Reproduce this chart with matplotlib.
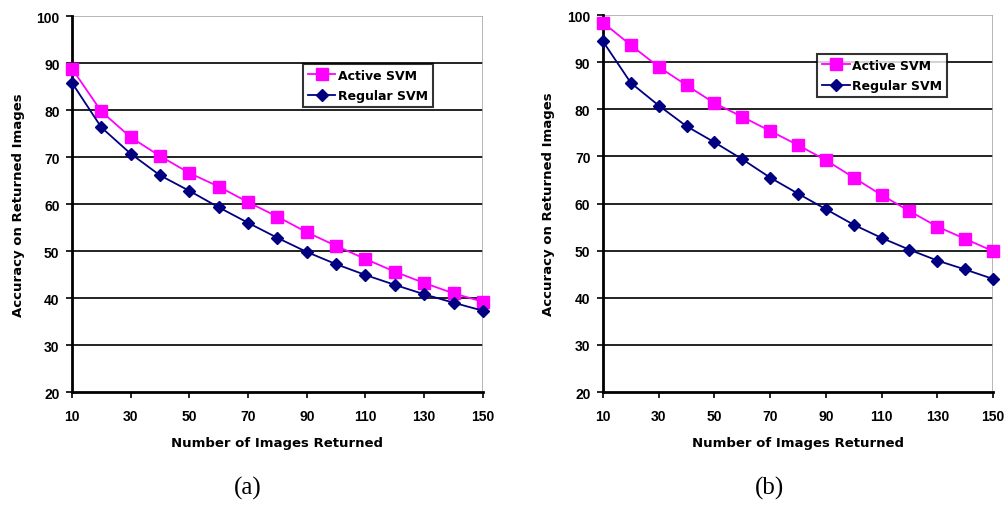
import matplotlib
matplotlib.use("Agg")
import matplotlib.pyplot as plt

n_images = [10, 20, 30, 40, 50, 60, 70, 80, 90, 100, 110, 120, 130, 140, 150]
x_ticks = [10, 30, 50, 70, 90, 110, 130, 150]
y_ticks = [20, 30, 40, 50, 60, 70, 80, 90, 100]

active_a = [88.8, 79.7, 74.2, 70.2, 66.6, 63.7, 60.4, 57.3, 54.0, 51.1, 48.3, 45.6, 43.2, 41.0, 39.2]
regular_a = [85.8, 76.3, 70.7, 66.1, 62.8, 59.3, 56.0, 52.8, 49.8, 47.2, 44.9, 42.8, 40.8, 39.0, 37.3]

active_b = [98.4, 93.6, 89.0, 85.1, 81.3, 78.4, 75.4, 72.4, 69.2, 65.5, 61.8, 58.4, 55.1, 52.5, 49.9]
regular_b = [94.4, 85.6, 80.8, 76.4, 73.0, 69.4, 65.5, 62.1, 58.8, 55.5, 52.7, 50.2, 47.9, 46.0, 44.0]

captions = ["(a)", "(b)"]

plt.rcParams['font.family'] = ['Liberation Sans', 'DejaVu Sans']

fig = plt.figure(figsize=(10.07, 5.06), dpi=100)

rects = [[0.0715, 0.2233, 0.408, 0.743], [0.5988, 0.2233, 0.3873, 0.745]]
series = [(active_a, regular_a), (active_b, regular_b)]
legend_locs = [(0.562, 0.758), (0.549, 0.782)]
ylabel_x = [-0.13, -0.14]
caption_x = [248 / 1007, 770 / 1007]

for i, rect in enumerate(rects):
    act, reg = series[i]
    ax = fig.add_axes(rect)
    ax.set_xlim(10, 150)
    ax.set_ylim(20, 100)
    ax.set_xticks(x_ticks)
    ax.set_yticks(y_ticks)
    for y in y_ticks[1:-1]:
        ax.axhline(y, color="#222222", lw=1.4, zorder=1)
    ax.axhline(100, color="#aaaaaa", lw=1.2, zorder=1)
    ax.axvline(150, color="#aaaaaa", lw=1.2, zorder=1)
    ax.plot(n_images, act, color="#ff00ff", marker="s", markersize=9, lw=1.3,
            label="Active SVM", clip_on=False, zorder=4)
    ax.plot(n_images, reg, color="#000080", marker="D", markersize=6.5, lw=1.3,
            label="Regular SVM", clip_on=False, zorder=5)
    for s in ["top", "right"]:
        ax.spines[s].set_visible(False)
    ax.spines["left"].set_linewidth(2.0)
    ax.spines["bottom"].set_linewidth(2.0)
    ax.tick_params(axis="both", direction="out", length=4, width=1.2, labelsize=10)
    ax.tick_params(axis="x", pad=8)
    ax.tick_params(axis="y", pad=5)
    for lab in ax.get_xticklabels() + ax.get_yticklabels():
        lab.set_fontweight("bold")
    ax.set_xlabel("Number of Images Returned", fontsize=9.5, fontweight="bold",
                  family=["DejaVu Sans"], va="center")
    ax.xaxis.set_label_coords(0.5, -0.133)
    ax.set_ylabel("Accuracy on Returned Images", fontsize=9.5, fontweight="bold",
                  family=["DejaVu Sans"], va="center")
    ax.yaxis.set_label_coords(ylabel_x[i], 0.5)
    leg = ax.legend(loc="lower left", bbox_to_anchor=legend_locs[i], frameon=True,
                    fancybox=False, edgecolor="black", handlelength=2.2,
                    handletextpad=0.2, borderpad=0.4, labelspacing=0.6,
                    borderaxespad=0.0,
                    prop={"family": "DejaVu Sans", "weight": "bold", "size": 9})
    leg.get_frame().set_linewidth(1.5)
    leg.set_zorder(6)
    fig.text(caption_x[i], 1 - 488 / 506, captions[i], ha="center", va="center",
             fontsize=18, family=["Liberation Serif", "DejaVu Serif"])

fig.savefig("out.png", dpi=100)
